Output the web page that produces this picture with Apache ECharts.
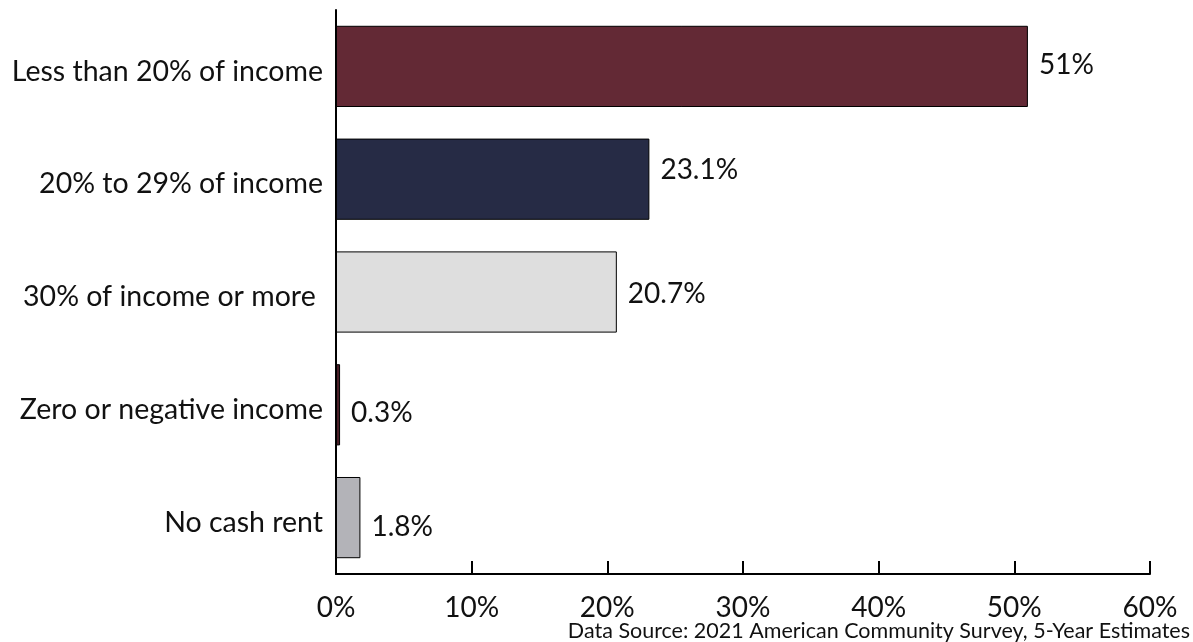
<!DOCTYPE html>
<html>
<head>
<meta charset="utf-8">
<script src="https://cdn.jsdelivr.net/npm/echarts@6/dist/echarts.min.js"></script>
<style>
  html, body { margin: 0; padding: 0; background: #fff; }
  #chart { width: 1193px; height: 642px; }
</style>
</head>
<body>
<div id="chart"></div>
<script>
// Gross rent as a share of household income
const categories = [
  'Less than 20% of income',
  '20% to 29% of income',
  '30% of income or more ',
  'Zero or negative income',
  'No cash rent'
];
const shares = [51, 23.1, 20.7, 0.3, 1.8];
const barColors = ['#632935', '#262b45', '#dedede', '#4a1f28', '#b3b3b8'];
const xTicks = [0, 10, 20, 30, 40, 50, 60];
const sourceNote = 'Data Source: 2021 American Community Survey, 5-Year Estimates';

const FONT = 'Lato';

// small vertical nudges for the value labels, in px
const labelNudgeY = [-1, -9, 2, 8, 9];

const chart = echarts.init(document.getElementById('chart'));
chart.setOption({
  animation: false,
  textStyle: { fontFamily: FONT },
  grid: { left: 336, right: 43, top: 10, bottom: 68 },
  xAxis: {
    type: 'value',
    min: xTicks[0],
    max: xTicks[xTicks.length - 1],
    interval: 10,
    axisLine: { show: true, lineStyle: { color: '#000', width: 2 } },
    axisTick: { show: true, inside: true, length: 13, lineStyle: { color: '#000', width: 2 } },
    splitLine: { show: false },
    axisLabel: {
      color: '#111', fontSize: 28, fontFamily: FONT, margin: 20,
      formatter: v => v + '%'
    }
  },
  yAxis: {
    type: 'category',
    data: categories,
    inverse: true,
    axisLine: { show: true, lineStyle: { color: '#000', width: 2 } },
    axisTick: { show: false },
    axisLabel: {
      margin: 13,
      formatter: v => '{c|' + v + '}',
      rich: {
        c: {
          color: '#111', fontSize: 28.5, fontFamily: FONT,
          padding: [10, 0, 0, 0]
        }
      }
    }
  },
  graphic: [{
    type: 'text',
    right: 3,
    top: 620,
    style: { text: sourceNote, fontSize: 21.5, fontFamily: FONT, fill: '#111' }
  }],
  series: [{
    type: 'bar',
    barWidth: '72%',
    data: shares.map((v, i) => ({
      value: v,
      itemStyle: { color: barColors[i] },
      label: { offset: [0, labelNudgeY[i]] }
    })),
    itemStyle: { borderColor: '#000', borderWidth: 1 },
    label: {
      show: true,
      position: 'right',
      distance: 11,
      color: '#111',
      fontSize: 28,
      fontFamily: FONT,
      formatter: p => p.value + '%'
    }
  }]
});
</script>
</body>
</html>
